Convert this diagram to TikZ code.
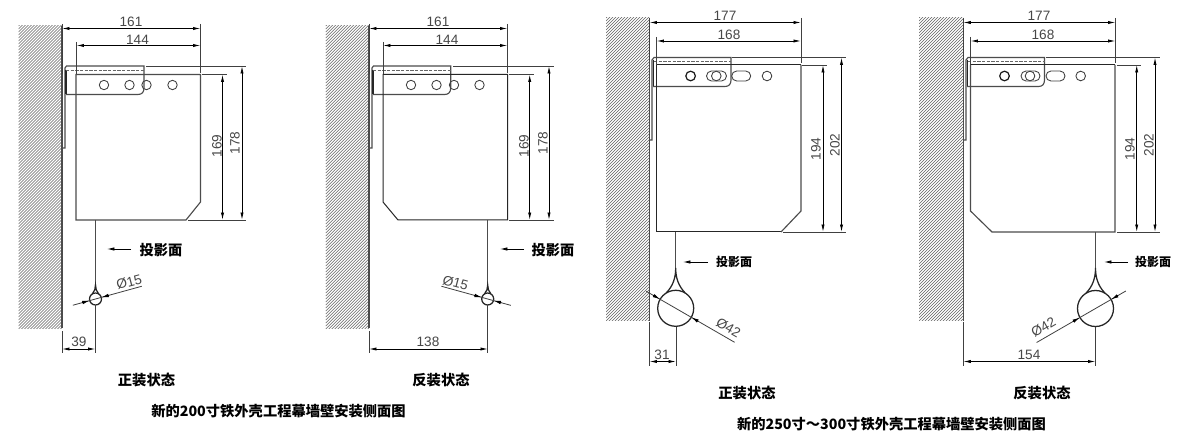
\documentclass[tikz,border=0pt]{standalone}
\usepackage{fontspec}
\setmainfont{Liberation Sans}
\newfontfamily\cjkfont{Noto Sans CJK SC}
\usetikzlibrary{arrows.meta,calc}
\tikzset{
  part/.style={draw=black!70,line width=.85pt},
  partdark/.style={draw=black!85,line width=.75pt},
  dashline/.style={draw=black!60,line width=.7pt,dash pattern=on 2.6pt off .9pt},
  extline/.style={draw=black!75,line width=.6pt},
  dimline/.style={draw=black,line width=.6pt,{Latex[length=5.6pt,width=2.4pt]}-{Latex[length=5.6pt,width=2.4pt]}},
  tipline/.style={draw=black,line width=.6pt,-{Latex[length=5.6pt,width=2.6pt]}},
  dimtext/.style={text=black!72,font=\fontsize{10.2pt}{10.2pt}\selectfont,inner sep=0pt},
  capbig/.style={text=black,font=\cjkfont\bfseries\fontsize{10.7pt}{11pt}\selectfont,inner sep=0pt},
  capsmall/.style={text=black,font=\cjkfont\bfseries\fontsize{9pt}{10pt}\selectfont,inner sep=0pt},
  hole/.style={draw=black!75,line width=.65pt},
  holedark/.style={draw=black!90,line width=.9pt},
  cord/.style={draw=black!70,line width=1.15pt},
  hatchline/.style={draw=black!62,line width=.33pt}
}
% wall: x-left, x-right, y-top, y-bottom
\newcommand{\wallhatch}[4]{%
  \begin{scope}
    \clip (#1,#3) rectangle (#2,#4);
    \foreach \hh in {0,3,...,360}{\draw[hatchline] (#1,{#3+\hh}) -- ({#1+60},{#3+\hh-60});}
  \end{scope}
  \draw[part] (#2,#3) -- (#2,#4);
}
\newcommand{\hdim}[3]{\draw[dimline] (#2,#1) -- (#3,#1);}
\newcommand{\vdim}[3]{\draw[dimline] (#1,#2) -- (#1,#3);}
% ball: cx, cy, r, cord-top, cord-bottom
\newcommand{\ball}[5]{%
  \draw[cord] (#1,#4) -- (#1,#5);
  \draw[partdark,line width=.95pt] (#1,#2) circle [radius=#3];
  \draw[partdark,line width=.95pt] ({#1-#3*.52},{#2-#3*.86}) .. controls ({#1-#3*.15},{#2-#3*1.25}) and (#1,{#5+#3*.55}) .. (#1,#5)
     .. controls (#1,{#5+#3*.55}) and ({#1+#3*.15},{#2-#3*1.25}) .. ({#1+#3*.52},{#2-#3*.86});
}
% diameter dimension: cx, cy, r, angle, back length, front length
\newcommand{\diadim}[6]{%
  \coordinate (dc) at (#1,#2);
  \draw[extline] ($(dc)+(#4:-#5)$) -- ($(dc)+(#4:#6)$);
  \draw[tipline] ($(dc)+(#4:{-#3-8})$) -- ($(dc)+(#4:-#3)$);
  \draw[tipline] ($(dc)+(#4:{#3+8})$) -- ($(dc)+(#4:#3)$);
}
\begin{document}
\begin{tikzpicture}[x=.75pt,y=-.75pt]
\useasboundingbox (0,0) rectangle (1185,438);
\fill[white] (0,0) rectangle (1185,438);

%% ---------- View 1 ----------
\wallhatch{18.5}{62}{26}{328}
\draw[part] (62,148) -- (65,148) -- (65,68) -- (66.5,66) -- (144,66) -- (144,88) .. controls (144,92) and (142,94.5) .. (138,94.5) -- (66,94.5);
\draw[partdark,line width=1.1pt] (66,70) -- (66,94.5);
\draw[dashline] (66,70) -- (144,70);
\draw[part] (76,74.5) -- (200.5,74.5) -- (200.5,202) -- (186,220) -- (76,220) -- cycle;
\foreach \hx in {104,129.5,146.5,172.5}{\draw[hole] (\hx,85) circle [radius=4.7];}
\draw[extline] (62,24) -- (62,74);
\draw[extline] (200.5,24) -- (200.5,73);
\draw[extline] (76.5,42) -- (76.5,74);
\draw[extline] (146,66) -- (246,66);
\draw[extline] (202,74.5) -- (227,74.5);
\draw[extline] (188,220) -- (246,220);
\hdim{28.5}{62}{200.5}
\hdim{45.5}{76.5}{200.5}
\vdim{222.5}{74.5}{220}
\vdim{242}{66}{220}
\node[dimtext] (a161) at (131,22) {161};
\node[dimtext] (a144) at (137.5,40) {144};
\node[dimtext,rotate=90] (a169) at (217,146) {169};
\node[dimtext,rotate=90] (a178) at (235,143) {178};
\ball{95.5}{299}{6}{220}{285}
\diadim{95.5}{299}{6}{-15.4}{23.5}{48}
\node[dimtext,rotate=15] (a15) at (129,282) {Ø15};
\draw[extline] (95.5,305) -- (95.5,353);
\draw[extline] (62,331) -- (62,353);
\hdim{349}{62}{95.5}
\node[dimtext] (a39) at (79,342) {39};
\node[capbig] (aproj) at (161,250) {投影面};
\coordinate (aprojs) at (131,249);
\coordinate (aprojt) at (107,249);
\draw[tipline] (aprojs) -- (aprojt);
\node[capbig] (astate) at (146.5,380) {正装状态};
\node[capbig] (atitle) at (278.5,411) {新的200寸铁外壳工程幕墙壁安装侧面图};

%% ---------- View 2 ----------
\wallhatch{325.7}{369}{26}{328}
\draw[part] (369,148) -- (372,148) -- (372,68) -- (373.5,66) -- (450.7,66) -- (450.7,88) .. controls (450.7,92) and (448.7,94.5) .. (444.7,94.5) -- (373,94.5);
\draw[partdark,line width=1.1pt] (373,70) -- (373,94.5);
\draw[dashline] (373,70) -- (450.7,70);
\draw[partdark] (383,74.5) -- (507.5,74.5) -- (507.5,220) -- (398,220) -- (383,202) -- cycle;
\foreach \hx in {411,436.5,454,479.5}{\draw[hole] (\hx,85) circle [radius=4.7];}
\draw[extline] (369,24) -- (369,74);
\draw[extline] (507.5,24) -- (507.5,73);
\draw[extline] (383,42) -- (383,74);
\draw[extline] (453,66) -- (554,66);
\draw[extline] (509,74.5) -- (534,74.5);
\draw[extline] (509,220) -- (554,220);
\hdim{28.5}{369}{507.5}
\hdim{45.5}{383}{507.5}
\vdim{529.7}{74.5}{220}
\vdim{549}{66}{220}
\node[dimtext] (b161) at (438,22) {161};
\node[dimtext] (b144) at (447,40) {144};
\node[dimtext,rotate=90] (b169) at (524,146) {169};
\node[dimtext,rotate=90] (b178) at (543,143) {178};
\ball{487.7}{299}{6}{220}{285}
\diadim{487.7}{299}{6}{15.4}{48}{24}
\node[dimtext,rotate=-15] (b15) at (455.5,283) {Ø15};
\draw[extline] (487.7,305) -- (487.7,353);
\draw[extline] (369,331) -- (369,353);
\hdim{349}{369}{488}
\node[dimtext] (b138) at (428,342) {138};
\node[capbig] (bproj) at (553,250) {投影面};
\coordinate (bprojs) at (524,249);
\coordinate (bprojt) at (500,249);
\draw[tipline] (bprojs) -- (bprojt);
\node[capbig] (bstate) at (441,380) {反装状态};

%% ---------- View 3 ----------
\wallhatch{606}{649.5}{18}{320.7}
\draw[part] (649.5,140) -- (652,140) -- (652,60) -- (654,57.5) -- (731,57.5) -- (731,80) .. controls (731,84) and (729,86.5) .. (725,86.5) -- (653,86.5);
\draw[partdark] (653,60) -- (653,86.5);
\draw[dashline] (654,61.5) -- (731,61.5);
\draw[partdark] (656.5,65) -- (801,65);
\draw[partdark] (656.5,65) -- (656.5,232) -- (781,232);
\draw[part] (781,232) -- (801,211) -- (801,65);
\draw[holedark] (690.6,76) circle [radius=4.8];
\draw[hole] (711.5,71) -- (721.5,71) arc (90:-90:5 and -5) -- (711.5,81) arc (-90:-270:5 and -5) -- cycle;
\draw[hole] (716.3,76) circle [radius=4.8];
\draw[hole] (736.7,71) -- (745.7,71) arc (90:-90:5 and -5) -- (736.7,81) arc (-90:-270:5 and -5) -- cycle;
\draw[hole] (767,76) circle [radius=4.8];
\draw[extline] (649.5,18) -- (649.5,60);
\draw[extline] (801,18) -- (801,63);
\draw[extline] (656.5,37) -- (656.5,65);
\draw[extline] (732,57.5) -- (846,57.5);
\draw[extline] (802,65) -- (827,65);
\draw[extline] (783,232) -- (846,232);
\hdim{22.5}{649.5}{801}
\hdim{41}{656.5}{801}
\vdim{823}{65}{232}
\vdim{841.5}{57.5}{232}
\node[dimtext] (c177) at (725,16) {177};
\node[dimtext] (c168) at (729,34.5) {168};
\node[dimtext,rotate=90] (c194) at (816,149) {194};
\node[dimtext,rotate=90] (c202) at (835,145) {202};
\ball{675.7}{308.3}{18}{232}{268}
\diadim{675.7}{308.3}{18}{30}{34}{68}
\node[dimtext,rotate=-30] (c42) at (728.5,327.5) {Ø42};
\draw[extline] (676,327) -- (676,366);
\draw[extline] (649.5,322) -- (649.5,366);
\hdim{361.5}{649.5}{676}
\node[dimtext] (c31) at (662,355) {31};
\node[capsmall] (cproj) at (734,262) {投影面};
\coordinate (cprojs) at (708,262);
\coordinate (cprojt) at (683,262);
\draw[tipline] (cprojs) -- (cprojt);
\node[capbig] (cstate) at (747,392.7) {正装状态};
\node[capbig] (ctitle) at (891.5,424) {新的250寸～300寸铁外壳工程幕墙壁安装侧面图};

%% ---------- View 4 ----------
\wallhatch{919}{963.3}{18}{320.7}
\draw[part] (963.3,140) -- (966,140) -- (966,60) -- (968,57.5) -- (1044.5,57.5) -- (1044.5,80) .. controls (1044.5,84) and (1042.5,86.5) .. (1038.5,86.5) -- (967,86.5);
\draw[partdark] (967,60) -- (967,86.5);
\draw[dashline] (968,61.5) -- (1044.5,61.5);
\draw[partdark] (970.5,65) -- (1115,65);
\draw[part] (970.5,65) -- (970.5,211) -- (992,232) -- (1115,232) -- (1115,65);
\draw[holedark] (1004.5,76) circle [radius=4.8];
\draw[hole] (1026,71) -- (1035,71) arc (90:-90:5 and -5) -- (1026,81) arc (-90:-270:5 and -5) -- cycle;
\draw[hole] (1030,76) circle [radius=4.8];
\draw[hole] (1051,71) -- (1060,71) arc (90:-90:5 and -5) -- (1051,81) arc (-90:-270:5 and -5) -- cycle;
\draw[hole] (1080.7,76) circle [radius=4.8];
\draw[extline] (963.3,18) -- (963.3,60);
\draw[extline] (1115.5,18) -- (1115.5,63);
\draw[extline] (970.5,37) -- (970.5,65);
\draw[extline] (1046,57.5) -- (1160,57.5);
\draw[extline] (1117,65) -- (1141,65);
\draw[extline] (1117,232) -- (1160,232);
\hdim{22.5}{963.3}{1115.5}
\hdim{41}{970.5}{1115.5}
\vdim{1136.7}{65}{232}
\vdim{1155}{57.5}{232}
\node[dimtext] (d177) at (1039,16) {177};
\node[dimtext] (d168) at (1043,34.5) {168};
\node[dimtext,rotate=90] (d194) at (1130,149) {194};
\node[dimtext,rotate=90] (d202) at (1149,145) {202};
\ball{1095.5}{308.5}{18}{232}{268}
\diadim{1095.5}{308.5}{18}{-30}{68}{35}
\node[dimtext,rotate=30] (d42) at (1043.5,327.5) {Ø42};
\draw[extline] (1095.5,327) -- (1095.5,366);
\draw[extline] (963.3,322) -- (963.3,366);
\hdim{361.5}{963.3}{1095.5}
\node[dimtext] (d154) at (1029,355) {154};
\node[capsmall] (dproj) at (1153,262) {投影面};
\coordinate (dprojs) at (1128,262);
\coordinate (dprojt) at (1104,262);
\draw[tipline] (dprojs) -- (dprojt);
\node[capbig] (dstate) at (1042,392.7) {反装状态};
\end{tikzpicture}
\end{document}
